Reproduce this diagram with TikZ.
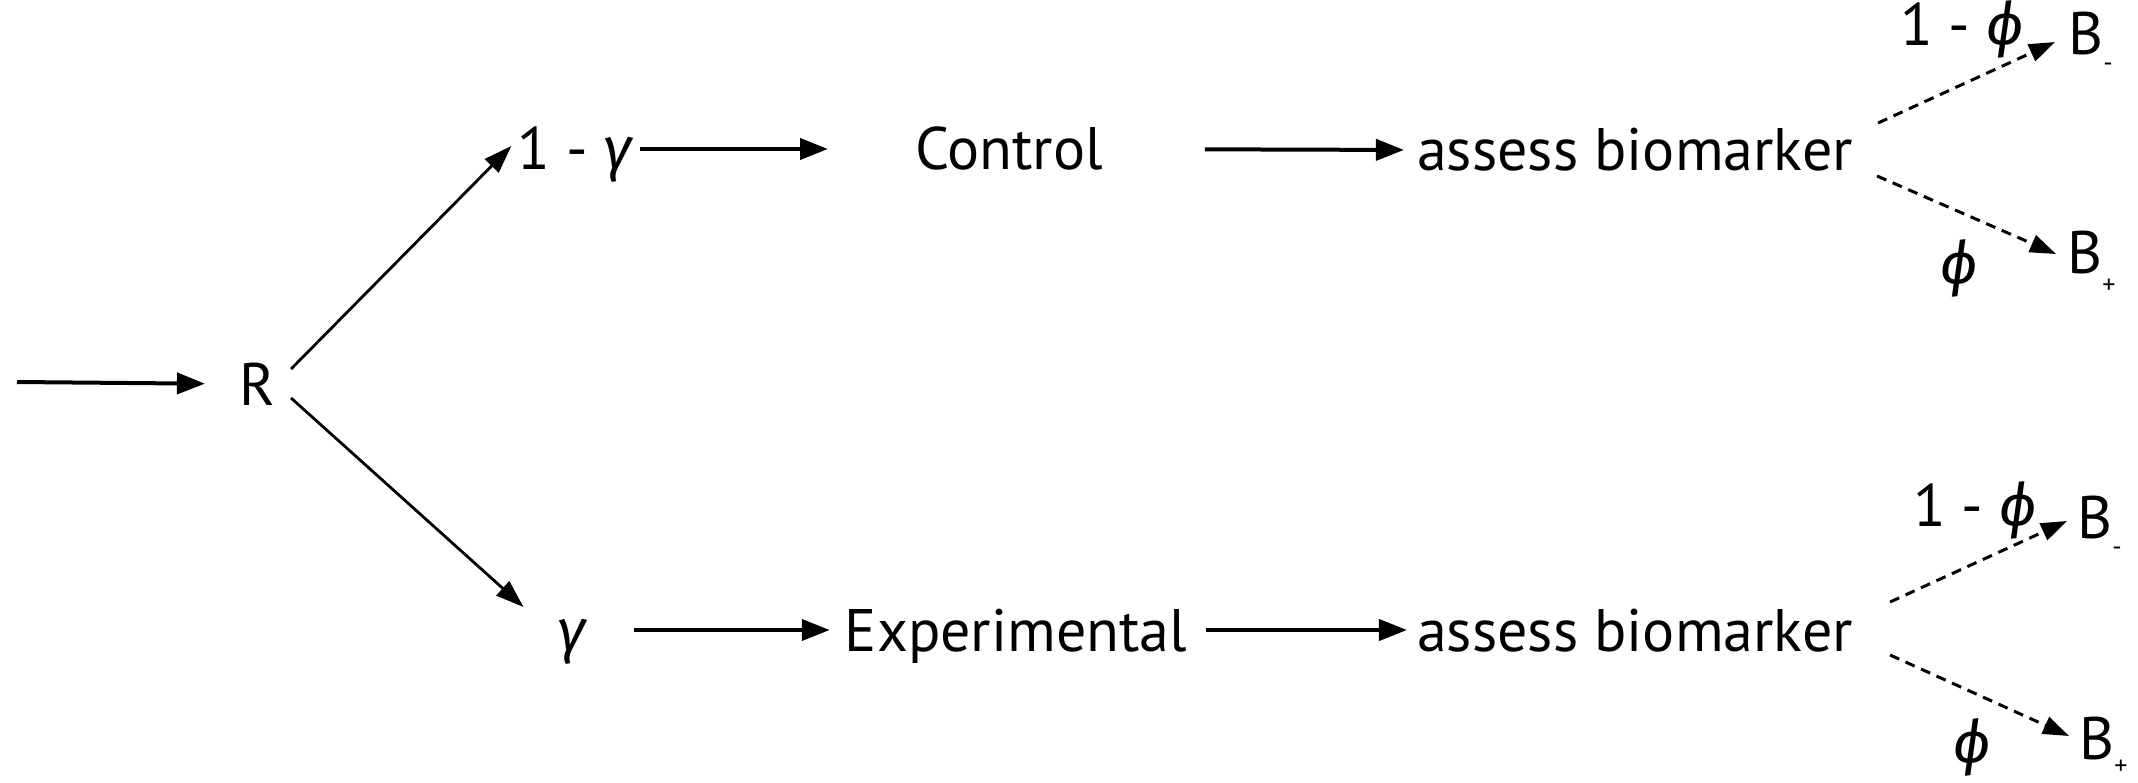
\documentclass[tikz,border=0pt]{standalone}
\usepackage{fontspec}
\setmainfont{PT Sans}
\newfontfamily\grkfont{Fira Sans}
\usetikzlibrary{arrows.meta,calc}
\newcommand{\mygam}{{\grkfont\itshape γ}}
\newcommand{\myphi}{{\grkfont\itshape ϕ}}
\newcommand{\subminus}{\raisebox{-17pt}{\fontsize{26}{26}\selectfont -}}
\newcommand{\subplus}{\raisebox{-20pt}{\fontsize{26}{26}\selectfont +}}
\newcommand{\subplusb}{\raisebox{-15pt}{\fontsize{26}{26}\selectfont +}}
\begin{document}
\begin{tikzpicture}[x=1pt,y=-1pt,
  txt/.style={inner sep=0pt,text height=42pt,text depth=0pt,font=\fontsize{60}{60}\selectfont},
  lbl/.style={inner sep=0pt,anchor=base,font=\fontsize{60}{60}\selectfont},
  harr/.style={line width=4pt,-{Triangle[length=28pt,width=21pt]}},
  darr/.style={line width=2.8pt,-{Triangle[length=28pt,width=19pt]}},
  dsh/.style={line width=3pt,dash pattern=on 10pt off 7pt,-{Triangle[length=26pt,width=18pt]}}]
\fill[white] (0,0) rectangle (2138,783);
\useasboundingbox (0,0) rectangle (2138,783);

% nodes
\coordinate (start) at (17,382);
\node[txt] (R) at (257,384) {R};
\node[txt] (g1) at (575,149) {1 - \mygam};
\node[txt] (ctrl) at (1009,149) {Control};
\node[txt] (ab1) at (1635,150) {assess biomarker};
\node[txt] (g2) at (572,630) {\mygam};
\node[txt] (exp) at (1016,630) {Experimental};
\node[txt] (ab2) at (1635,630) {assess biomarker};

\node[txt,anchor=west] (bm1) at (2068,34) {B\subminus};
\node[txt,anchor=west] (bp1) at (2067,253) {B\subplus};
\node[txt,anchor=west] (bm2) at (2077,517) {B\subminus};
\node[txt,anchor=west] (bp2) at (2079,738) {B\subplusb};

\node[lbl] (pm1) at (1962,46) {1 - \myphi};
\node[lbl] (pp1) at (1959,285) {\myphi};
\node[lbl] (pm2) at (1975,526) {1 - \myphi};
\node[lbl] (pp2) at (1972,763) {\myphi};

% connectors
\draw[harr,shorten >=34pt] (start) -- (R.west);
\draw[darr] ($(R.east)+(16,-15)$) -- ($(g1.west)+(-6,-3)$);
\draw[darr] ($(R.east)+(16,14)$) -- ($(g2.west)+(-34,-23)$);

\draw[harr,shorten <=7pt,shorten >=87pt] (g1.east) -- (ctrl.west);
\draw[harr,shorten <=102pt,shorten >=13pt] (ctrl.east) -- (ab1.west);
\draw[harr,shorten <=48pt,shorten >=15pt] (g2.east) -- (exp.west);
\draw[harr,shorten <=19pt,shorten >=10pt] (exp.east) -- (ab2.west);

\draw[dsh] ($(ab1.east)+(25,-27)$) -- ($(bm1.west)+(-13,8)$);
\draw[dsh] ($(ab1.east)+(24,26)$) -- ($(bp1.west)+(-11,1)$);
\draw[dsh] ($(ab2.east)+(37,-28)$) -- ($(bm2.west)+(-10,4)$);
\draw[dsh] ($(ab2.east)+(37,25)$) -- ($(bp2.west)+(-10,-2)$);
\end{tikzpicture}
\end{document}
